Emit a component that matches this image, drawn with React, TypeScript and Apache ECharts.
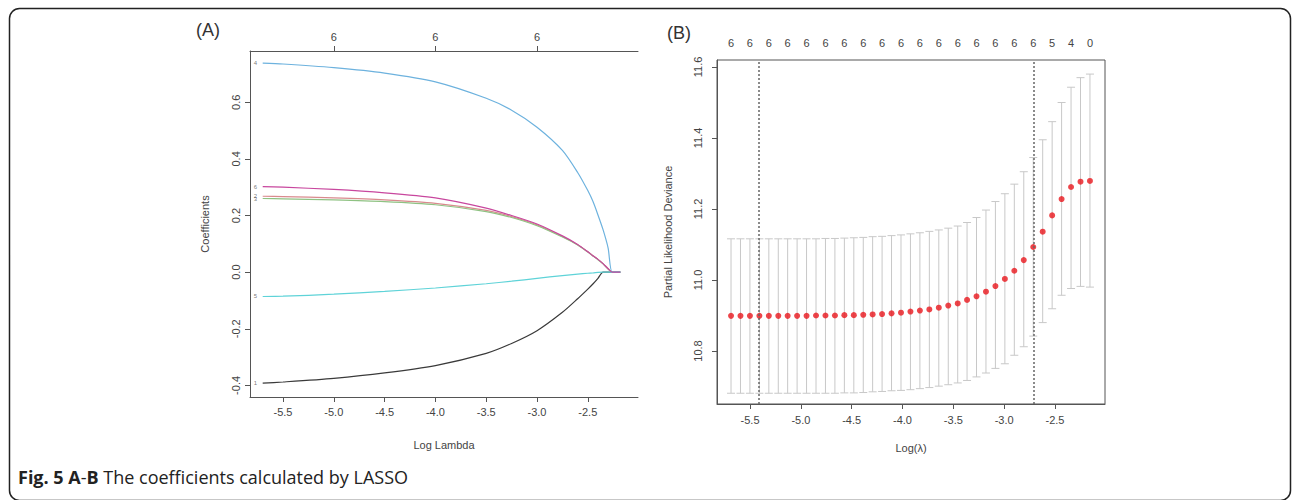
import React, { useEffect, useRef } from "react";
import * as echarts from "echarts";

// ---------- Panel A: coefficient paths ----------
const lamA = [-5.7, -5.5, -5.0, -4.5, -4.0, -3.5, -3.25, -3.0, -2.75, -2.6, -2.5, -2.45, -2.4, -2.35, -2.3, -2.26, -2.18];
const coefBlack = [-0.392, -0.388, -0.375, -0.356, -0.330, -0.287, -0.252, -0.207, -0.142, -0.094, -0.060, -0.042, -0.022, 0.0, 0.0, 0.0, 0.0];
const coefRed = [0.268, 0.267, 0.262, 0.255, 0.243, 0.218, 0.196, 0.167, 0.126, 0.097, 0.072, 0.058, 0.045, 0.030, 0.012, 0.0, 0.0];
const coefGreen = [0.260, 0.259, 0.255, 0.249, 0.238, 0.214, 0.193, 0.164, 0.124, 0.096, 0.071, 0.057, 0.044, 0.029, 0.011, 0.0, 0.0];
const coefBlue = [0.738, 0.735, 0.722, 0.703, 0.672, 0.614, 0.572, 0.512, 0.430, 0.352, 0.288, 0.250, 0.202, 0.150, 0.085, 0.0, 0.0];
const coefCyan = [-0.086, -0.085, -0.078, -0.068, -0.056, -0.041, -0.032, -0.022, -0.012, -0.007, -0.004, -0.003, -0.001, 0.0, 0.0, 0.0, 0.0];
const coefMagenta = [0.302, 0.300, 0.292, 0.280, 0.262, 0.226, 0.200, 0.170, 0.128, 0.098, 0.072, 0.058, 0.045, 0.030, 0.012, 0.0, 0.0];
const varLabels = ["1", "2", "3", "4", "5", "6"];
const xTicksA = [-5.5, -5.0, -4.5, -4.0, -3.5, -3.0, -2.5];
const yTicksA = [-0.4, -0.2, 0.0, 0.2, 0.4, 0.6];
const topTicksA = [-5.0, -4.0, -3.0];
const topLabelsA = ["6", "6", "6"];

// ---------- Panel B: cross-validation ----------
const cvLogLambda = [
  -5.687, -5.594, -5.501, -5.408, -5.315, -5.222, -5.130, -5.037, -4.944, -4.851,
  -4.758, -4.665, -4.572, -4.479, -4.386, -4.294, -4.201, -4.108, -4.015, -3.922,
  -3.829, -3.736, -3.643, -3.550, -3.457, -3.365, -3.272, -3.179, -3.086, -2.993,
  -2.900, -2.807, -2.714, -2.621, -2.528, -2.435, -2.342, -2.249, -2.156,
];
const cvMean = [
  10.899, 10.899, 10.899, 10.899, 10.899, 10.899, 10.899, 10.899, 10.899, 10.900,
  10.900, 10.900, 10.901, 10.901, 10.902, 10.903, 10.904, 10.906, 10.908, 10.911,
  10.914, 10.917, 10.922, 10.928, 10.934, 10.944, 10.954, 10.967, 10.983, 11.003,
  11.026, 11.056, 11.093, 11.136, 11.182, 11.228, 11.262, 11.277, 11.279,
];
const cvUpper = [
  11.116, 11.116, 11.116, 11.116, 11.116, 11.116, 11.116, 11.116, 11.116, 11.116,
  11.117, 11.117, 11.118, 11.119, 11.120, 11.122, 11.123, 11.125, 11.127, 11.130,
  11.133, 11.137, 11.141, 11.146, 11.152, 11.162, 11.176, 11.197, 11.221, 11.243,
  11.270, 11.305, 11.345, 11.395, 11.446, 11.500, 11.543, 11.570, 11.580,
];
const cvLower = [
  10.681, 10.681, 10.681, 10.681, 10.681, 10.681, 10.681, 10.681, 10.681, 10.681,
  10.681, 10.681, 10.682, 10.682, 10.683, 10.685, 10.686, 10.688, 10.689, 10.691,
  10.694, 10.697, 10.701, 10.705, 10.710, 10.717, 10.727, 10.738, 10.751, 10.764,
  10.788, 10.812, 10.842, 10.880, 10.919, 10.957, 10.976, 10.982, 10.980,
];
const topCountsB = ["6", "6", "6", "6", "6", "6", "6", "6", "6", "6", "6", "6", "6", "6", "6", "6", "6", "5", "4", "0"];
const lambdaMin = -5.408;
const lambda1se = -2.714;
const xTicksB = [-5.5, -5.0, -4.5, -4.0, -3.5, -3.0, -2.5];
const yTicksB = [10.8, 11.0, 11.2, 11.4, 11.6];

const FONT = "Liberation Sans, Arial, sans-serif";
const TXT = "#444";
const AX = "#555";

function pairs(xs: number[], ys: number[]) {
  return xs.map((x, i) => [x, ys[i]]);
}

export default function App() {
  const ref = useRef<HTMLDivElement>(null);
  useEffect(() => {
    if (!ref.current) return;
    const chart = echarts.init(ref.current, null, { renderer: "svg" });

    const pathSeries = [
      { data: coefBlack, color: "#3a3a3a", label: varLabels[0] },
      { data: coefRed, color: "#d98a8e", label: varLabels[1] },
      { data: coefGreen, color: "#8fc283", label: varLabels[2] },
      { data: coefBlue, color: "#6db2de", label: varLabels[3] },
      { data: coefCyan, color: "#5fd3d8", label: varLabels[4] },
      { data: coefMagenta, color: "#c8479e", label: varLabels[5] },
    ];

    const topPosB = cvLogLambda.filter((_, i) => i % 2 === 0);
    const topMapB: Record<string, string> = {};
    topPosB.forEach((v, i) => (topMapB[v.toFixed(3)] = topCountsB[i]));

    const axisLineStyle = { lineStyle: { color: AX, width: 1 } };
    const tickStyle = { show: true, length: 5, lineStyle: { color: AX, width: 1 } };

    const option: any = {
      animation: false,
      backgroundColor: "#fff",
      grid: [
        { left: 250, top: 51, width: 388, height: 346, show: false },
        { left: 717, top: 60, width: 388, height: 344, show: true, borderColor: AX, borderWidth: 1, backgroundColor: "transparent" },
      ],
      xAxis: [
        {
          gridIndex: 0, type: "value", position: "bottom", min: -5.825, max: -2.006,
          axisLine: { show: true, onZero: false, ...axisLineStyle },
          axisTick: { ...tickStyle, customValues: xTicksA },
          axisLabel: { customValues: xTicksA, formatter: (v: number) => v.toFixed(1), color: TXT, fontSize: 11, fontFamily: FONT, margin: 9 },
          splitLine: { show: false },
          name: "Log Lambda", nameLocation: "middle", nameGap: 42,
          nameTextStyle: { color: TXT, fontSize: 11, fontFamily: FONT },
        },
        {
          gridIndex: 0, type: "value", position: "top", min: -5.825, max: -2.006,
          axisLine: { show: true, onZero: false, ...axisLineStyle },
          axisTick: { ...tickStyle, customValues: topTicksA },
          axisLabel: {
            customValues: topTicksA,
            formatter: (v: number) => { const i = topTicksA.findIndex((t) => Math.abs(t - v) < 1e-6); return i >= 0 ? topLabelsA[i] : ""; },
            color: TXT, fontSize: 11, fontFamily: FONT, margin: 9,
          },
          splitLine: { show: false },
        },
        {
          gridIndex: 1, type: "value", position: "bottom", min: -5.825, max: -2.008,
          axisLine: { show: true, onZero: false, ...axisLineStyle },
          axisTick: { ...tickStyle, customValues: xTicksB },
          axisLabel: { customValues: xTicksB, formatter: (v: number) => v.toFixed(1), color: TXT, fontSize: 11, fontFamily: FONT, margin: 10 },
          splitLine: { show: false },
          name: "Log(λ)", nameLocation: "middle", nameGap: 38,
          nameTextStyle: { color: TXT, fontSize: 11, fontFamily: FONT },
        },
        {
          gridIndex: 1, type: "value", position: "top", min: -5.825, max: -2.008,
          axisLine: { show: false },
          axisTick: { show: false },
          axisLabel: {
            customValues: topPosB,
            formatter: (v: number) => topMapB[v.toFixed(3)] ?? "",
            color: TXT, fontSize: 11, fontFamily: FONT, margin: 12,
          },
          splitLine: { show: false },
        },
      ],
      yAxis: [
        {
          gridIndex: 0, type: "value", min: -0.441, max: 0.781,
          axisLine: { show: true, onZero: false, ...axisLineStyle },
          axisTick: { ...tickStyle, customValues: yTicksA },
          axisLabel: { customValues: yTicksA, formatter: (v: number) => v.toFixed(1), rotate: 90, color: TXT, fontSize: 11, fontFamily: FONT, margin: 9 },
          splitLine: { show: false },
          name: "Coefficients", nameLocation: "middle", nameGap: 40, nameRotate: 90,
          nameTextStyle: { color: TXT, fontSize: 11, fontFamily: FONT },
        },
        {
          gridIndex: 1, type: "value", min: 10.6507, max: 11.6197,
          axisLine: { show: true, onZero: false, ...axisLineStyle },
          axisTick: { ...tickStyle, customValues: yTicksB },
          axisLabel: { customValues: yTicksB, formatter: (v: number) => v.toFixed(1), rotate: 90, color: TXT, fontSize: 11, fontFamily: FONT, margin: 14 },
          splitLine: { show: false },
          name: "Partial Likelihood Deviance", nameLocation: "middle", nameGap: 44, nameRotate: 90,
          nameTextStyle: { color: TXT, fontSize: 11, fontFamily: FONT },
        },
      ],
      series: [
        ...pathSeries.map((s) => ({
          type: "line", xAxisIndex: 0, yAxisIndex: 0,
          data: pairs(lamA, s.data), smooth: 0.25, showSymbol: false, symbol: "none",
          lineStyle: { color: s.color, width: 1.2 }, z: 3,
        })),
        {
          type: "scatter", xAxisIndex: 0, yAxisIndex: 0, symbolSize: 1,
          itemStyle: { color: "rgba(0,0,0,0)" },
          data: pathSeries.map((s) => ({ value: [lamA[0], s.data[0]], name: s.label })),
          label: { show: true, position: "left", distance: 5, formatter: (p: any) => p.name, fontSize: 6, color: "#555", fontFamily: FONT },
          silent: true,
        },
        {
          type: "custom", xAxisIndex: 2, yAxisIndex: 1,
          data: cvLogLambda.map((x, i) => [x, cvLower[i], cvUpper[i]]),
          renderItem: (params: any, api: any) => {
            const x = api.value(0);
            const lo = api.coord([x, api.value(1)]);
            const hi = api.coord([x, api.value(2)]);
            const st = { stroke: "#c8c8c8", lineWidth: 1 };
            return {
              type: "group",
              children: [
                { type: "line", shape: { x1: hi[0], y1: hi[1], x2: lo[0], y2: lo[1] }, style: st },
                { type: "line", shape: { x1: hi[0] - 4, y1: hi[1], x2: hi[0] + 4, y2: hi[1] }, style: st },
                { type: "line", shape: { x1: lo[0] - 4, y1: lo[1], x2: lo[0] + 4, y2: lo[1] }, style: st },
              ],
            };
          },
          z: 2, silent: true,
        },
        {
          type: "scatter", xAxisIndex: 2, yAxisIndex: 1,
          data: pairs(cvLogLambda, cvMean), symbolSize: 6,
          itemStyle: { color: "#e8161d" }, z: 4, silent: true,
          markLine: {
            silent: true, symbol: "none", label: { show: false },
            lineStyle: { color: "#666", type: [2, 2], width: 1.5 },
            data: [{ xAxis: lambdaMin }, { xAxis: lambda1se }],
          },
        },
      ],
      graphic: [
        {
          type: "rect", silent: true,
          shape: { x: 9.5, y: 8.5, width: 1281, height: 492, r: 10 },
          style: { fill: "none", stroke: "#222", lineWidth: 1.5 },
        },
        { type: "text", left: 196, top: 21, style: { text: "(A)", fontSize: 18, fontFamily: FONT, fill: "#333" } },
        { type: "text", left: 667, top: 24, style: { text: "(B)", fontSize: 18, fontFamily: FONT, fill: "#333" } },
        {
          type: "text", left: 18, top: 468,
          style: {
            text: "{b|Fig. 5 A}{n|-}{b|B}{n| The coefficients calculated by LASSO}",
            rich: {
              b: { fontWeight: "bold", fontSize: 18, fontFamily: "Open Sans, Noto Sans, sans-serif", fill: "#222" },
              n: { fontSize: 18, fontFamily: "Open Sans, Noto Sans, sans-serif", fill: "#222" },
            },
          },
        },
      ],
    };

    chart.setOption(option);
    return () => chart.dispose();
  }, []);

  return <div ref={ref} style={{ position: "absolute", left: 0, top: 0, width: 1292, height: 500 }} />;
}
